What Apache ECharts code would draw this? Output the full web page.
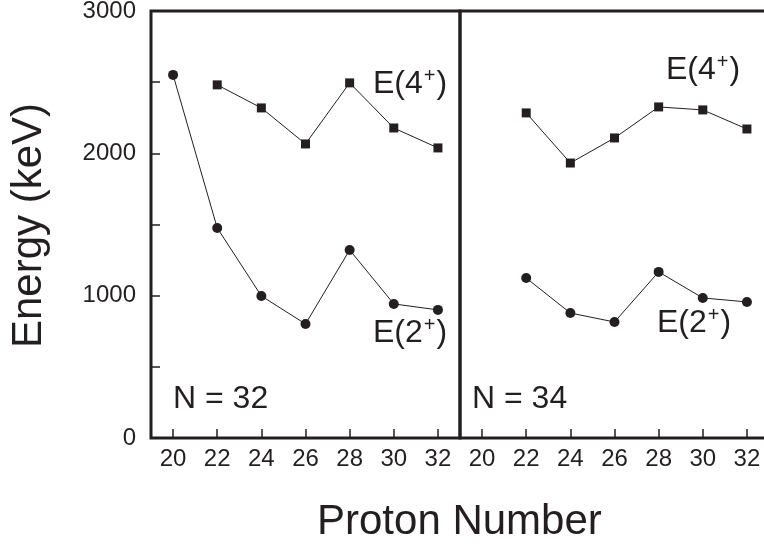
<!DOCTYPE html>
<html><head><meta charset="utf-8">
<script src="https://cdn.jsdelivr.net/npm/echarts@6/dist/echarts.min.js"></script>
<style>html,body{margin:0;padding:0;background:#fff}#c{width:764px;height:547px}</style>
</head><body><div id="c"></div>
<script>
var protonTicks = [20, 22, 24, 26, 28, 30, 32];
var protonE2 = [20, 22, 24, 26, 28, 30, 32];
var protonE4 = [22, 24, 26, 28, 30, 32];
var e2N32 = [2551, 1476, 998, 801, 1321, 942, 900];
var e4N32 = [2481, 2319, 2066, 2495, 2178, 2038];
var protonE2N34 = [22, 24, 26, 28, 30, 32];
var e2N34 = [1124, 878, 815, 1167, 984, 956];
var e4N34 = [2284, 1932, 2108, 2326, 2305, 2171];
var yTicks = [0, 1000, 2000, 3000];

function pairs(xs, ys){ return xs.map(function(x,i){ return [x, ys[i]]; }); }
var INK = '#231f20';
var FONT = 'Liberation Sans, Arial, sans-serif';

function xAx(gi){
  return {
    type:'value', gridIndex:gi, min:19, max:33,
    axisLine:{show:false},
    splitLine:{show:false},
    axisTick:{show:true, inside:true, length:9, customValues:protonTicks, lineStyle:{color:INK, width:1.5}},
    axisLabel:{show:true, customValues:protonTicks, margin:9, color:INK, fontSize:24, fontFamily:FONT}
  };
}
function yAx(gi, show){
  return {
    type:'value', gridIndex:gi, min:yTicks[0], max:yTicks[yTicks.length-1], interval:1000,
    axisLine:{show:false},
    splitLine:{show:false},
    axisTick:{show:show, inside:true, length:9, lineStyle:{color:INK, width:1.5}},
    minorTick:{show:show, splitNumber:2, length:9, lineStyle:{color:INK, width:1.5}},
    axisLabel:{show:show, margin:15, color:INK, fontSize:24, fontFamily:FONT,
      formatter:function(v){ return String(v); }}
  };
}
function ser(gi, xs, ys, sym, size){
  return {
    type:'line', xAxisIndex:gi, yAxisIndex:gi, data:pairs(xs, ys),
    symbol:sym, symbolSize:size, showSymbol:true,
    lineStyle:{color:INK, width:1}, itemStyle:{color:INK},
    emphasis:{disabled:true}, silent:true, z:3
  };
}
function lab(x, y, base, sup){
  return {
    type:'text', left:x, top:y,
    style:{
      text:'{a|' + base + '}{s|' + sup + '}{a|)}',
      rich:{
        a:{fontSize:32, fontFamily:FONT, fill:INK, verticalAlign:'bottom', lineHeight:36},
        s:{fontSize:20, fontFamily:FONT, fill:INK, verticalAlign:'bottom', lineHeight:36, padding:[0,1,14,1]}
      }
    }
  };
}
function plain(x, y, t){
  return {type:'text', left:x, top:y, style:{text:t, fontSize:32, fontFamily:FONT, fill:INK}};
}

var chart = echarts.init(document.getElementById('c'));
chart.setOption({
  animation:false,
  backgroundColor:'#fff',
  grid:[
    {left:151, top:11, width:309, height:427, show:true, borderColor:INK, borderWidth:3, backgroundColor:'transparent', outerBoundsMode:'none', containLabel:false},
    {left:460, top:11, width:309, height:427, show:true, borderColor:INK, borderWidth:3, backgroundColor:'transparent', outerBoundsMode:'none', containLabel:false}
  ],
  xAxis:[xAx(0), xAx(1)],
  yAxis:[yAx(0, true), yAx(1, false)],
  series:[
    ser(0, protonE2, e2N32, 'circle', 10),
    ser(0, protonE4, e4N32, 'rect', 9),
    ser(1, protonE2N34, e2N34, 'circle', 10),
    ser(1, protonE4, e4N34, 'rect', 9)
  ],
  graphic:[
    lab(373, 66, 'E(4', '+'),
    lab(373, 315, 'E(2', '+'),
    lab(666, 52, 'E(4', '+'),
    lab(657, 305, 'E(2', '+'),
    plain(173, 383, 'N = 32'),
    plain(472, 383, 'N = 34'),
    {type:'text', left:317, top:501, style:{text:'Proton Number', fontSize:42, fontFamily:FONT, fill:INK}},
    {type:'text', x:8, y:348, rotation:Math.PI/2, style:{text:'Energy (keV)', fontSize:42, fontFamily:FONT, fill:INK}}
  ]
});
</script></body></html>
